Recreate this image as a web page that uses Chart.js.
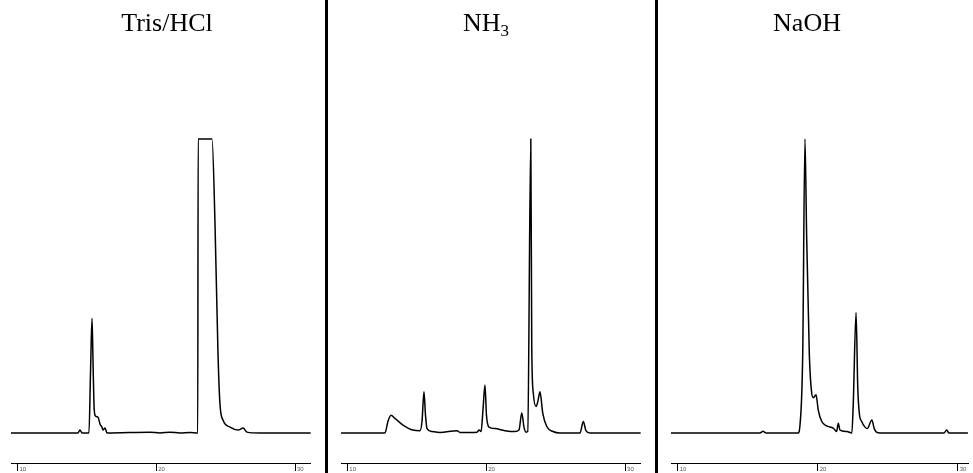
<!DOCTYPE html>
<html>
<head>
<meta charset="utf-8">
<script src="https://cdn.jsdelivr.net/npm/chart.js@4.4.0/dist/chart.umd.min.js"></script>
<style>
  body { margin: 0; background: #fff; }
  #wrap { position: relative; width: 973px; height: 473px; overflow: hidden; }
  canvas { position: absolute; top: 0; }
  .title {
    position: absolute; top: 10px; transform: translateX(-50%);
    font-family: "Liberation Serif", "Times New Roman", serif;
    font-size: 26px; line-height: 26px; white-space: nowrap; color: #000;
  }
  .title sub { font-size: 17px; line-height: 0; vertical-align: -5px; }
  .divider { position: absolute; top: 0; width: 3px; height: 473px; background: #000; }
</style>
</head>
<body>
<div id="wrap">
  <canvas id="tris" width="325" height="473" style="left:0px"></canvas>
  <canvas id="nh3" width="327" height="473" style="left:328px"></canvas>
  <canvas id="naoh" width="315" height="473" style="left:658px"></canvas>
  <div class="divider" style="left:325px"></div>
  <div class="divider" style="left:655px"></div>
  <div class="title" style="left:167px">Tris/HCl</div>
  <div class="title" style="left:486px">NH<sub>3</sub></div>
  <div class="title" style="left:807px">NaOH</div>
</div>
<script>
// retention time (min) and detector signal (% of full scale)
const tickValues = [10, 20, 30];

const trisTime = [9.53, 14.14, 14.36, 14.5, 14.65, 15.15, 15.26, 15.37, 15.44, 15.51, 15.59, 15.8, 15.95, 16.09, 16.16, 16.31, 16.45,
  19.55, 20.27, 20.99, 21.71, 22.43, 22.99, 23.02, 24.02, 24.23, 24.45, 24.59, 24.81, 25.32, 25.9, 26.26, 26.54, 27.48, 31.13];
const trisSignal = [0, 0, 0, 1, 0, 0, 20, 39, 25, 10, 6, 5.4, 3, 2, 1, 1.7, 0,
  0.3, 0, 0.3, 0, 0.2, 0, 100, 100, 72, 27, 10, 4.4, 2, 1, 1.7, 0.3, 0, 0];

const nh3Time = [9.55, 12.71, 12.93, 13.15, 13.43, 14.01, 14.73, 15.23, 15.38, 15.52, 15.63, 15.74, 16.1, 16.67, 17.9, 18.11,
  19.34, 19.48, 19.63, 19.77, 19.91, 20.02, 20.2, 20.63, 21.35, 22.07, 22.36, 22.56, 22.72, 22.87, 22.99, 23.21, 23.28,
  23.39, 23.59, 23.73, 23.87, 24.07, 24.36, 24.81, 25.31, 26.75, 26.99, 27.18, 27.47, 31.12];
const nh3Signal = [0, 0, 4, 6, 5, 2.7, 1, 0.8, 4, 14, 6, 1.5, 0.5, 0.2, 0.8, 0.2,
  0.3, 1, 0.5, 8, 16.3, 6, 2, 1.5, 0.8, 0.5, 1, 6.8, 2, 0.3, 0.5, 100, 29,
  13.6, 9, 11, 14, 6.8, 2.2, 0.5, 0, 0, 3.9, 0.8, 0, 0];

const naohTime = [9.52, 15.88, 16.09, 16.31, 18.59, 18.74, 18.93, 19.09, 19.21, 19.4, 19.57, 19.69, 19.88, 20.04, 20.29, 20.64,
  21.11, 21.35, 21.47, 21.59, 22.09, 22.44, 22.54, 22.74, 22.86, 22.97, 23.14, 23.38, 23.54, 23.87, 24.04, 24.24, 24.69,
  29.02, 29.21, 29.38, 30.73];
const naohSignal = [0, 0, 0.6, 0, 0, 3, 27, 100, 67, 27, 13.6, 12, 13, 7.8, 3.9, 2.4,
  1.7, 0.5, 3.3, 1, 0.5, 0, 10, 41, 15.7, 6.8, 3.9, 2, 1.5, 4.4, 1.5, 0.2, 0,
  0, 1, 0, 0];

function makeChart(id, time, signal, xMin, xMax, padLeft, padRight) {
  const points = time.map((t, i) => ({ x: t, y: signal[i] }));
  return new Chart(document.getElementById(id), {
    type: "line",
    data: {
      datasets: [{
        data: points,
        borderColor: "#000",
        borderWidth: 1.5,
        pointRadius: 0,
        cubicInterpolationMode: "monotone",
        fill: false,
        clip: false,
      }],
    },
    options: {
      responsive: false,
      animation: false,
      events: [],
      layout: { padding: { left: padLeft, right: padRight, top: 109.6, bottom: 0 } },
      plugins: { legend: { display: false }, tooltip: { enabled: false } },
      scales: {
        x: {
          type: "linear",
          min: xMin,
          max: xMax,
          afterBuildTicks: (s) => { s.ticks = tickValues.map((v) => ({ value: v })); },
          afterFit: (s) => { s.height = 10; },
          grid: { drawOnChartArea: false, drawTicks: true, tickLength: 8, color: "#000", lineWidth: 1 },
          border: { display: true, color: "#000", width: 1 },
          ticks: {
            align: "start",
            labelOffset: 2,
            padding: -5,
            maxRotation: 0,
            color: "#555",
            font: { size: 6, family: "Liberation Sans" },
          },
        },
        y: { display: false, min: -10.2, max: 110 },
      },
    },
  });
}

makeChart("tris", trisTime, trisSignal, 9.532, 31.131, 11, 14.3);
makeChart("nh3", nh3Time, nh3Signal, 9.546, 31.123, 13, 14.3);
makeChart("naoh", naohTime, naohSignal, 9.521, 30.736, 13, 5);
</script>
</body>
</html>
